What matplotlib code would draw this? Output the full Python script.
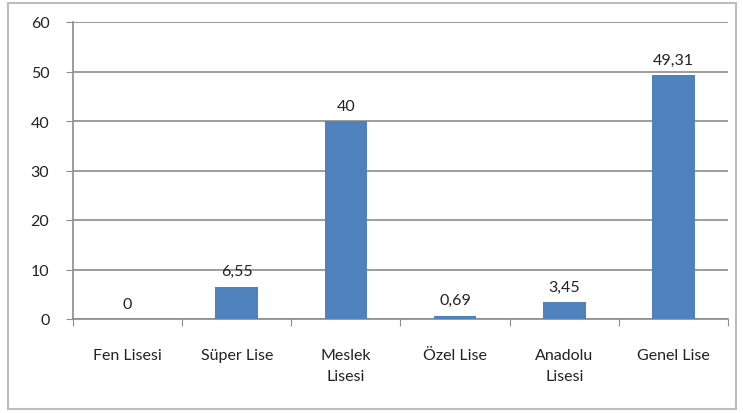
import matplotlib.pyplot as plt
from matplotlib.patches import Rectangle

# school types and percentages
okul_turleri = ["Fen Lisesi", "Süper Lise", "Meslek\nLisesi", "Özel Lise", "Anadolu\nLisesi", "Genel Lise"]
yuzdeler = [0, 6.55, 40, 0.69, 3.45, 49.31]
etiketler = ["0", "6,55", "40", "0,69", "3,45", "49,31"]
y_ticks = [0, 10, 20, 30, 40, 50, 60]

plt.rcParams['font.family'] = ['Lato', 'DejaVu Sans']
fs = 11.5

fig = plt.figure(figsize=(7.43, 4.14), dpi=100)
# outer chart border like excel
fig.patches.append(Rectangle((8 / 743, 4 / 414), 728 / 743, 406 / 414, transform=fig.transFigure,
                             fill=False, edgecolor='#bdbdbd', linewidth=1.5))

ax = fig.add_axes([73 / 743, 1 - 320 / 414, 655 / 743, 297 / 414])
x = list(range(len(okul_turleri)))
bars = ax.bar(x, yuzdeler, width=0.39, color='#4f81bd', zorder=3)

for b, lab in zip(bars, etiketler):
    ax.annotate(lab, (b.get_x() + b.get_width() / 2, b.get_height()), xytext=(0, 6),
                textcoords='offset points', ha='center', va='bottom', fontsize=fs, color='#222222')

ax.set_xlim(-0.5, len(okul_turleri) - 0.5)
ax.set_ylim(0, 60)
ax.set_yticks(y_ticks)
ax.set_yticklabels([str(t) for t in y_ticks], fontsize=fs, color='#222222')
ax.yaxis.grid(True, color='#8c8c8c', linewidth=1.2, zorder=0)

# tick marks between categories, labels at centres
ax.set_xticks([i - 0.5 for i in range(len(okul_turleri) + 1)])
ax.set_xticklabels([])
ax.set_xticks(x, minor=True)
ax.set_xticklabels(okul_turleri, minor=True, fontsize=fs, color='#222222', linespacing=1.65, va='top')
ax.tick_params(axis='x', which='minor', length=0, pad=21)
ax.tick_params(axis='x', which='major', length=5, color='#8c8c8c', direction='out')
ax.tick_params(axis='y', length=5, color='#8c8c8c', pad=12)

for s in ['top', 'right']:
    ax.spines[s].set_visible(False)
ax.spines['left'].set_color('#8c8c8c')
ax.spines['bottom'].set_color('#8c8c8c')
ax.spines['left'].set_linewidth(1.2)
ax.spines['bottom'].set_linewidth(1.2)

fig.savefig('out.png', dpi=100)
